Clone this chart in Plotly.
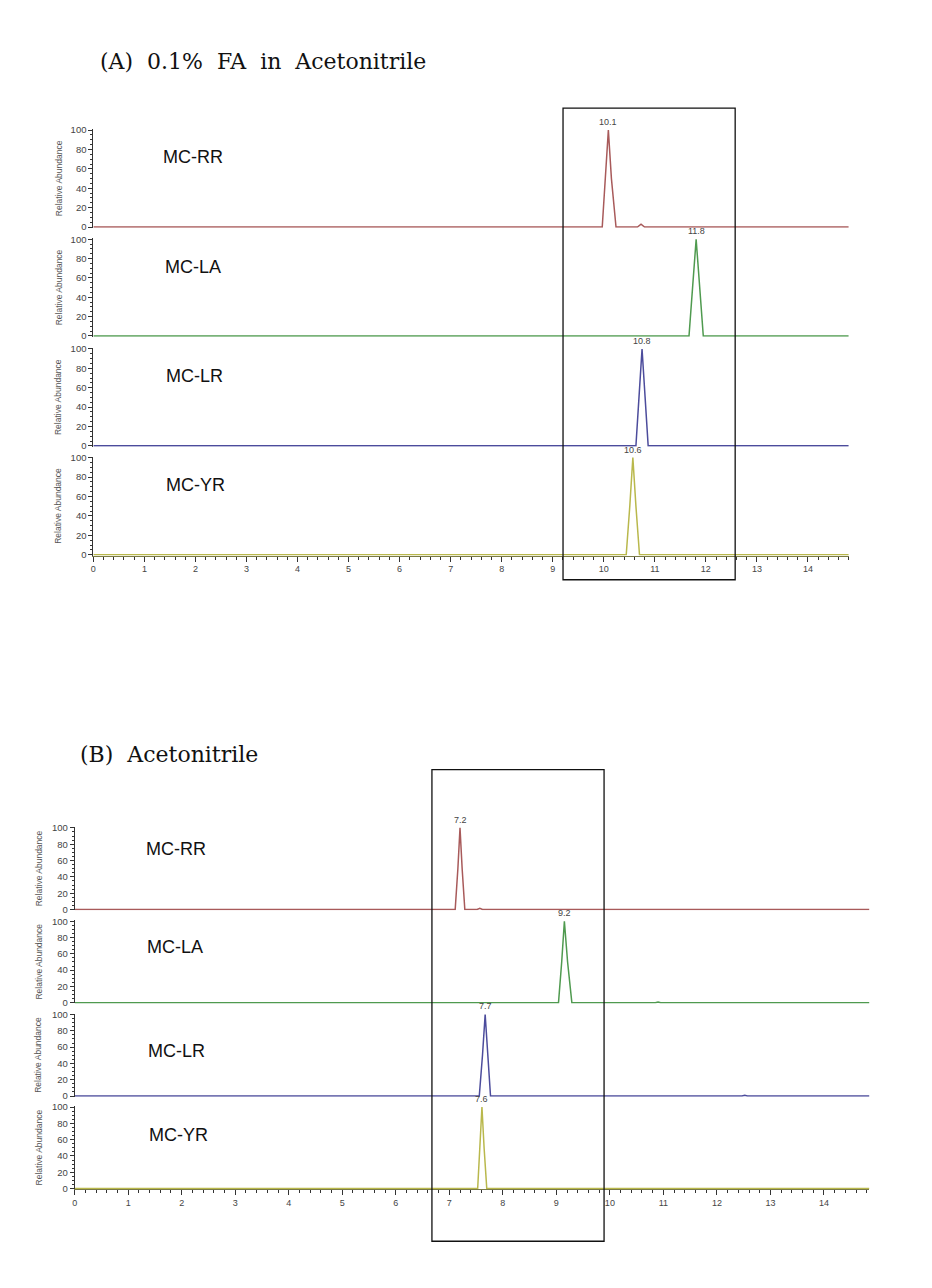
import plotly.graph_objects as go

# ---------- data ----------
# (A) 0.1% FA in Acetonitrile
a_rr_t = [0.0, 9.97, 10.03, 10.09, 10.15, 10.24, 10.66, 10.73, 10.80, 14.8]
a_rr_y = [0, 0, 50, 100, 50, 0, 0, 3, 0, 0]
a_la_t = [0.0, 11.67, 11.74, 11.81, 11.88, 11.95, 14.8]
a_la_y = [0, 0, 50, 100, 50, 0, 0]
a_lr_t = [0.0, 10.63, 10.69, 10.75, 10.81, 10.87, 14.8]
a_lr_y = [0, 0, 50, 100, 50, 0, 0]
a_yr_t = [0.0, 10.44, 10.51, 10.57, 10.63, 10.70, 14.8]
a_yr_y = [0, 0, 50, 100, 50, 0, 0]

# (B) Acetonitrile
b_rr_t = [0.0, 7.11, 7.16, 7.20, 7.24, 7.29, 7.52, 7.57, 7.62, 14.85]
b_rr_y = [0, 0, 50, 100, 50, 0, 0, 1.5, 0, 0]
b_la_t = [0.0, 9.04, 9.10, 9.15, 9.21, 9.29, 10.85, 10.9, 10.95, 14.85]
b_la_y = [0, 0, 50, 100, 50, 0, 0, 1, 0, 0]
b_lr_t = [0.0, 7.56, 7.62, 7.67, 7.72, 7.77, 12.47, 12.52, 12.57, 14.85]
b_lr_y = [0, 0, 50, 100, 50, 0, 0, 1, 0, 0]
b_yr_t = [0.0, 7.53, 7.57, 7.61, 7.65, 7.70, 14.85]
b_yr_y = [0, 0, 50, 100, 50, 0, 0]

compounds = ["MC-RR", "MC-LA", "MC-LR", "MC-YR"]
a_peak_t = [10.09, 11.81, 10.75, 10.57]
a_peak_lbl = ["10.1", "11.8", "10.8", "10.6"]
b_peak_t = [7.20, 9.15, 7.67, 7.61]
b_peak_lbl = ["7.2", "9.2", "7.7", "7.6"]
y_ticks = [0, 20, 40, 60, 80, 100]
titles = ["(A)\u00a0 0.1%\u00a0 FA\u00a0 in\u00a0 Acetonitrile", "(B)\u00a0 Acetonitrile"]

colors = ["#a85a5a", "#4f9a4f", "#4c4c9c", "#b9b84c"]

W, H = 932, 1288


# pixel -> paper, with a small correction for the page offset
def fx(p):
    return ((p - 10.4) / 0.996) / W


def fy(p):
    return 1 - ((p - 12.8) / 0.993) / H


# layout in pixels for both groups
groups = [
    dict(x0=92.7, scale=51.0, xmax=14.8,
         panels=[(227, 130), (336, 239.3), (446, 349), (555, 457.7)],
         series=[(a_rr_t, a_rr_y), (a_la_t, a_la_y), (a_lr_t, a_lr_y), (a_yr_t, a_yr_y)],
         peak_t=a_peak_t, peak_lbl=a_peak_lbl,
         lbl_x=[160, 162, 163, 163], lbl_y=[157, 267, 376, 485],
         ytitle_x=58, title_xy=(97, 61), box=(562, 108, 734, 580)),
    dict(x0=74.0, scale=53.48, xmax=14.85,
         panels=[(910, 828.3), (1003.3, 921.7), (1096.7, 1015), (1189.3, 1107.7)],
         series=[(b_rr_t, b_rr_y), (b_la_t, b_la_y), (b_lr_t, b_lr_y), (b_yr_t, b_yr_y)],
         peak_t=b_peak_t, peak_lbl=b_peak_lbl,
         lbl_x=[143, 144, 145, 146], lbl_y=[849, 948, 1052, 1136],
         ytitle_x=38, title_xy=(77, 755), box=(431, 770, 603, 1242)),
]

fig = go.Figure()
layout = {}
annotations = []
shapes = []
Y_LO, Y_HI = -0.8, 101

k = 0
for gi, g in enumerate(groups):
    x_dom = [fx(g["x0"]), fx(g["x0"] + g["xmax"] * g["scale"])]
    for pi, (p0, p100) in enumerate(g["panels"]):
        k += 1
        sfx = "" if k == 1 else str(k)
        per = (p0 - p100) / 100.0
        bot = p0 - Y_LO * per
        top = p0 - Y_HI * per
        last = pi == 3
        t, y = g["series"][pi]
        fig.add_trace(go.Scatter(x=t, y=y, mode="lines",
                                 line=dict(color=colors[pi], width=1.5),
                                 xaxis="x" + sfx, yaxis="y" + sfx,
                                 showlegend=False, hoverinfo="skip"))
        layout["xaxis" + sfx] = dict(
            domain=x_dom, range=[0, g["xmax"]], anchor="y" + sfx,
            showgrid=False, zeroline=False,
            showline=last, linecolor="#7a7a48", linewidth=1,
            ticks="outside" if last else "", ticklen=5, tickcolor="#333",
            dtick=1, tick0=0, showticklabels=last,
            tickfont=dict(family="Liberation Sans", size=9, color="#444"),
            minor=dict(dtick=0.2, ticks="outside", ticklen=3, tickcolor="#333") if last else dict(ticks=""),
        )
        layout["yaxis" + sfx] = dict(
            domain=[fy(bot), fy(top)], range=[Y_LO, Y_HI], anchor="x" + sfx,
            showgrid=False, zeroline=False, showline=True,
            linecolor="#333", linewidth=1,
            tickvals=y_ticks, ticks="outside", ticklen=4, tickcolor="#333",
            tickfont=dict(family="Liberation Sans", size=9.5, color="#444"),
            minor=dict(dtick=5, ticks="outside", ticklen=2, tickcolor="#333"),
        )
        # peak retention time label
        annotations.append(dict(
            x=g["peak_t"][pi], y=100, xref="x" + sfx, yref="y" + sfx,
            text=g["peak_lbl"][pi], showarrow=False, yanchor="bottom", yshift=1,
            font=dict(family="Liberation Sans", size=9, color="#444")))
        # compound name
        annotations.append(dict(
            x=fx(g["lbl_x"][pi]), y=fy(g["lbl_y"][pi]), xref="paper", yref="paper",
            text=compounds[pi], showarrow=False, xanchor="left", yanchor="middle",
            font=dict(family="Liberation Sans", size=18, color="#111")))
        # y axis title
        annotations.append(dict(
            x=fx(g["ytitle_x"]), y=fy((p0 + p100) / 2), xref="paper", yref="paper",
            text="Relative Abundance", showarrow=False, textangle=-90,
            xanchor="center", yanchor="middle",
            font=dict(family="Liberation Sans", size=8.5, color="#555")))
    tx, ty = g["title_xy"]
    annotations.append(dict(
        x=fx(tx), y=fy(ty), xref="paper", yref="paper", text=titles[gi],
        showarrow=False, xanchor="left", yanchor="middle",
        font=dict(family="DejaVu Serif", size=22, color="#111")))
    bx0, by0, bx1, by1 = g["box"]
    shapes.append(dict(type="rect", xref="paper", yref="paper",
                       x0=fx(bx0), x1=fx(bx1), y0=fy(by1), y1=fy(by0),
                       line=dict(color="#111", width=1.3)))

fig.update_layout(
    width=W, height=H, margin=dict(l=0, r=0, t=0, b=0),
    paper_bgcolor="white", plot_bgcolor="white",
    annotations=annotations, shapes=shapes, **layout,
)

fig.write_html("out.html")
